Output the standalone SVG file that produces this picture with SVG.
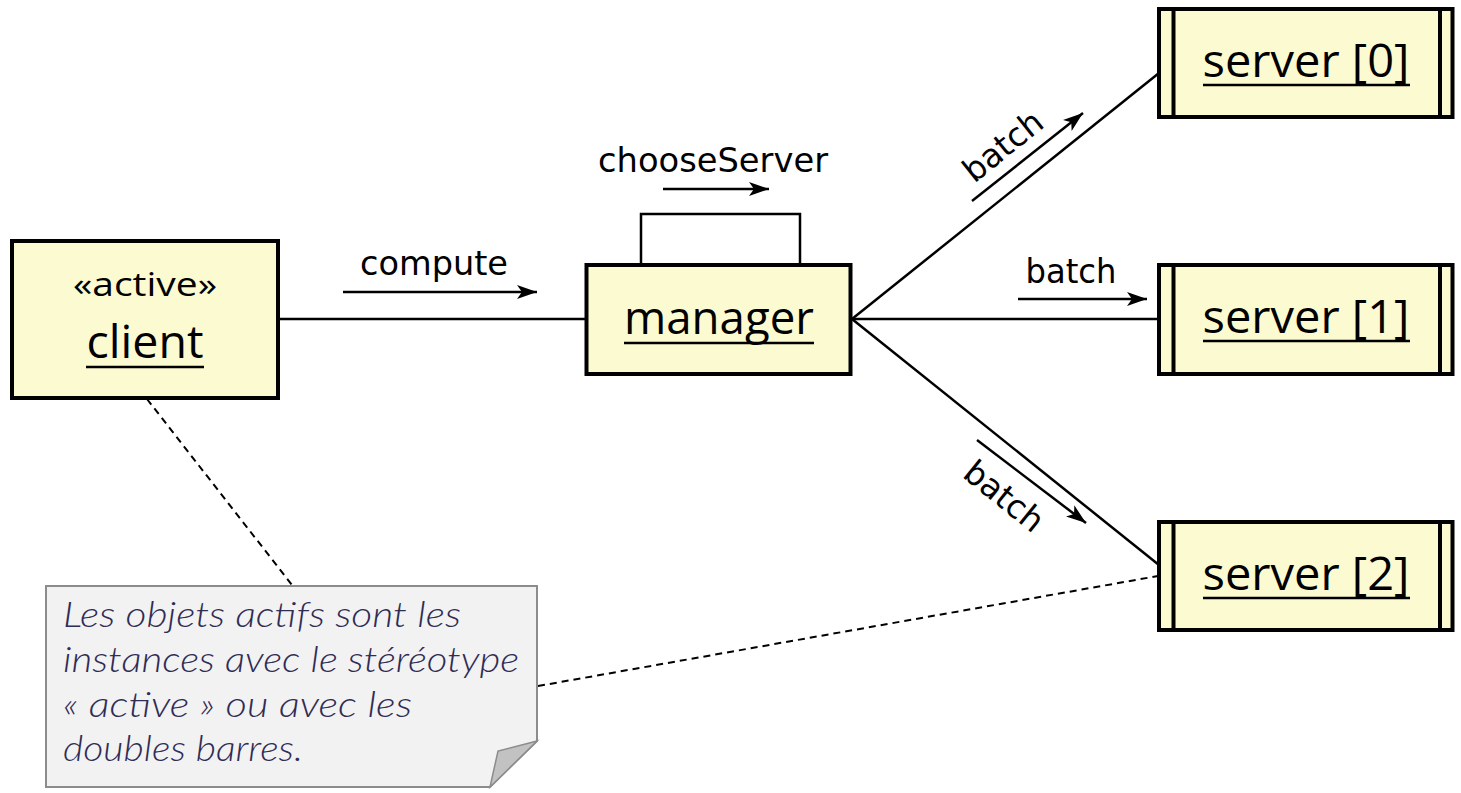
<svg xmlns="http://www.w3.org/2000/svg" width="1461" height="793" viewBox="0 0 1461 793">
  <style>
    .obj { fill: #fcfad0; stroke: #000; stroke-width: 4; }
    .bar { stroke: #000; stroke-width: 4; }
    .uline { stroke: #000; stroke-width: 2.5; }
    .link { fill: none; stroke: #000; stroke-width: 2.5; }
    .msg { fill: none; stroke: #000; stroke-width: 2.5; marker-end: url(#head); }
    .dash { fill: none; stroke: #000; stroke-width: 2; stroke-dasharray: 7 5; }
    .name { font-family: "Open Sans", "Liberation Sans", sans-serif; font-size: 45px; fill: #000; text-anchor: middle; }
    .stereo { font-family: "Open Sans", "Liberation Sans", sans-serif; font-size: 32px; fill: #000; text-anchor: middle; }
    .lbl { font-family: "DejaVu Sans", sans-serif; font-size: 33px; fill: #000; text-anchor: middle; }
    .note { font-family: "Lato", "Liberation Sans", sans-serif; font-style: italic; font-weight: 300; font-size: 35px; fill: #2f2c55; }
  </style>
  <defs>
    <marker id="head" markerUnits="userSpaceOnUse" markerWidth="22" markerHeight="16" refX="20" refY="8" orient="auto">
      <path d="M0,1 L20,8 L0,15 L5,8 Z" fill="#000"/>
    </marker>
  </defs>

  <!-- connectors -->
  <g id="connectors">
    <line class="link" x1="280" y1="319" x2="586" y2="319"/>
    <polyline class="link" points="641,263 641,214 800,214 800,263"/>
    <line class="link" x1="852" y1="319" x2="1159" y2="73"/>
    <line class="link" x1="852" y1="319" x2="1159" y2="319"/>
    <line class="link" x1="852" y1="319" x2="1159" y2="565"/>
    <line class="dash" x1="147" y1="399" x2="292" y2="585"/>
    <line class="dash" x1="538" y1="686" x2="1158" y2="576"/>

    <!-- message arrows and labels -->
    <line class="msg" x1="343" y1="292" x2="537" y2="292"/>
    <text class="lbl" x="434" y="275" textLength="148" lengthAdjust="spacingAndGlyphs">compute</text>
    <line class="msg" x1="663" y1="189" x2="769" y2="189"/>
    <text class="lbl" x="713" y="172" textLength="230" lengthAdjust="spacingAndGlyphs">chooseServer</text>
    <line class="msg" x1="1018" y1="299" x2="1147" y2="299"/>
    <text class="lbl" x="1071" y="283" textLength="91" lengthAdjust="spacingAndGlyphs">batch</text>
    <line class="msg" x1="972" y1="201" x2="1083" y2="113"/>
    <text class="lbl" transform="translate(1010,155) rotate(-38.8)" textLength="92" lengthAdjust="spacingAndGlyphs">batch</text>
    <line class="msg" x1="977" y1="440" x2="1086" y2="523"/>
    <text class="lbl" transform="translate(997,505) rotate(38.8)" textLength="92" lengthAdjust="spacingAndGlyphs">batch</text>
  </g>

  <!-- client (active object) -->
  <g id="client">
    <rect class="obj" x="12" y="241" width="266" height="157"/>
    <text class="stereo" x="145" y="296" textLength="144" lengthAdjust="spacingAndGlyphs">«active»</text>
    <text class="name" x="145" y="358" textLength="117" lengthAdjust="spacingAndGlyphs">client</text>
    <line class="uline" x1="86" y1="367" x2="204" y2="367"/>
  </g>

  <!-- manager -->
  <g id="manager">
    <rect class="obj" x="586.5" y="265" width="264" height="109"/>
    <text class="name" x="719" y="334" textLength="190" lengthAdjust="spacingAndGlyphs">manager</text>
    <line class="uline" x1="624" y1="343" x2="814" y2="343"/>
  </g>

  <!-- servers (double side bars) -->
  <g id="server0">
    <rect class="obj" x="1159" y="9" width="293.5" height="108"/>
    <line class="bar" x1="1173.5" y1="9" x2="1173.5" y2="117"/>
    <line class="bar" x1="1440" y1="9" x2="1440" y2="117"/>
    <text class="name" x="1306" y="77" textLength="207" lengthAdjust="spacingAndGlyphs">server [0]</text>
    <line class="uline" x1="1203" y1="85" x2="1410" y2="85"/>
  </g>
  <g id="server1">
    <rect class="obj" x="1159" y="265" width="293.5" height="109"/>
    <line class="bar" x1="1173.5" y1="265" x2="1173.5" y2="374"/>
    <line class="bar" x1="1440" y1="265" x2="1440" y2="374"/>
    <text class="name" x="1306" y="333" textLength="207" lengthAdjust="spacingAndGlyphs">server [1]</text>
    <line class="uline" x1="1203" y1="341" x2="1410" y2="341"/>
  </g>
  <g id="server2">
    <rect class="obj" x="1159" y="522" width="293.5" height="108"/>
    <line class="bar" x1="1173.5" y1="522" x2="1173.5" y2="630"/>
    <line class="bar" x1="1440" y1="522" x2="1440" y2="630"/>
    <text class="name" x="1306" y="590" textLength="207" lengthAdjust="spacingAndGlyphs">server [2]</text>
    <line class="uline" x1="1203" y1="598" x2="1410" y2="598"/>
  </g>

  <!-- note with folded corner -->
  <g id="note">
    <path d="M46,586 H537 V741 L490,787 H46 Z" fill="#f2f2f2" stroke="#8c8c8c" stroke-width="2"/>
    <path d="M537,741 L498,751 L490,787 Z" fill="#c2c2c2" stroke="#8c8c8c" stroke-width="1.5"/>
    <text class="note" x="63" y="627" textLength="398" lengthAdjust="spacingAndGlyphs">Les objets actifs sont les</text>
    <text class="note" x="63" y="672" textLength="456" lengthAdjust="spacingAndGlyphs">instances avec le stéréotype</text>
    <text class="note" x="63" y="717" textLength="349" lengthAdjust="spacingAndGlyphs">« active » ou avec les</text>
    <text class="note" x="63" y="761" textLength="240" lengthAdjust="spacingAndGlyphs">doubles barres.</text>
  </g>
</svg>
